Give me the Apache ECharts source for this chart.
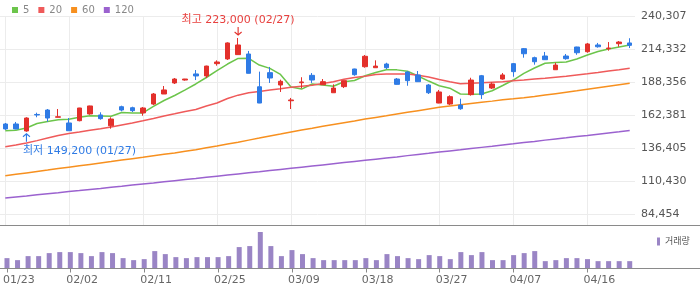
<!DOCTYPE html>
<html><head><meta charset="utf-8">
<script src="https://cdn.jsdelivr.net/npm/echarts@6/dist/echarts.min.js"></script>
<style>html,body{margin:0;padding:0;background:#fff}#c{width:700px;height:289px}</style>
</head><body><div id="c"></div>
<script>
const dates = ['01/23','01/26','01/27','01/28','01/29','01/30','02/02','02/03','02/04','02/05','02/06','02/09','02/10','02/11','02/12','02/13','02/19','02/20','02/23','02/24','02/25','02/26','02/27','03/03','03/04','03/05','03/06','03/09','03/10','03/11','03/12','03/13','03/16','03/17','03/18','03/19','03/20','03/23','03/24','03/25','03/26','03/27','03/30','03/31','04/01','04/02','04/03','04/06','04/07','04/08','04/09','04/10','04/13','04/14','04/15','04/16','04/17','04/20','04/21','04/22'];
// [open, close, low, high]
const candles = [
[155300,151400,150600,156100],[155300,151400,151100,156900],[149800,160000,149200,160600],[162800,162400,160600,164200],
[166300,160000,157100,167100],[160600,161000,160500,167100],[156100,150000,150000,160000],[157900,167900,157400,168000],
[163200,169500,162600,169700],[162400,159500,158700,164500],[153900,159200,151600,160600],[168900,166300,165300,169700],
[168100,165800,164700,168900],[164000,167900,161800,168700],[171000,178900,170200,179700],[178900,182100,178900,185200],
[187600,190700,186800,191500],[189900,190700,189400,190800],[194700,193100,189900,197800],[193100,200900,191500,201200],
[202800,204100,201200,205400],[206500,219100,205700,219600],[209900,217500,209800,223000],[210400,195200,195100,212800],
[184600,171800,171700,196500],[195700,191500,187600,200200],[186000,188900,180500,190200],[173600,174200,167100,175800],
[187800,188400,183400,192100],[193600,189900,187600,195400],[186200,188600,186200,190700],[179900,183600,179900,186500],
[184700,189400,183600,189600],[198600,194100,193300,198800],[200400,208600,199600,209600],[199600,200900,199600,205400],
[202500,199600,198600,203500],[190700,186500,186300,191500],[196200,189400,185400,196800],[193900,188600,188400,197000],
[186000,179900,178900,186800],[171800,180500,171600,182100],[171000,176800,170200,177900],[170200,167300,166500,175200],
[178400,189900,177600,191700],[193300,178400,175000,193900],[183600,186800,182800,188100],[190700,193900,190200,195400],
[202800,196500,192500,203300],[214600,210600,207500,215100],[207500,204300,202000,208300],[208800,205900,205700,212000],
[198000,201700,197900,203500],[208800,206700,205900,210400],[215900,211400,209800,216100],[212200,218300,211400,219100],
[217500,216100,215400,219100],[214600,215100,213000,219800],[218500,219800,216100,220600],[219100,217200,215100,222800]
];
const volumes = [310,250,370,370,460,490,490,460,370,490,460,310,250,280,520,430,340,310,340,340,340,370,640,670,1090,670,370,550,430,310,250,250,250,250,310,250,430,370,310,280,400,370,280,490,400,490,250,250,400,460,520,220,250,310,310,280,220,220,220,220];
const ma5 = [150000,150300,152100,155700,157300,158700,159000,160600,161800,161600,161400,164300,164000,164000,169100,173800,177700,182100,186800,191900,197300,202500,206900,207000,201700,199100,194300,184400,182800,186800,186000,185000,188600,189500,193300,195800,198000,197900,196800,193100,189100,185400,183500,178900,178800,178900,181500,185600,189900,195200,199400,203100,203700,204100,206500,209600,212400,214300,215900,217500];
const ma20 = [137400,138800,140300,142200,144300,146200,147800,149000,150300,151500,152900,154500,156100,157800,159600,161600,163300,165100,166700,169500,171800,175400,178000,179900,180900,182100,183100,184200,185100,185800,187200,188500,190500,191900,192900,194300,194700,194700,194600,193600,192300,190300,188600,187000,187300,187700,188200,188600,189300,189900,190700,191300,192100,192900,193900,194800,195800,197000,198000,199100];
const ma60 = [114600,115700,116800,117900,119000,120200,121300,122400,123500,124600,125700,126900,128000,129100,130300,131400,132500,133800,135100,136600,138000,139500,141000,142600,144200,145900,147400,149000,150600,152000,153500,154900,156300,157700,159200,160500,161800,163200,164500,165800,167100,168400,169400,170400,171400,172400,173300,174300,175100,176000,177000,178100,179200,180300,181400,182600,183800,185000,186200,187300];
const ma120 = [97000,97900,98700,99600,100400,101200,102100,102900,103800,104600,105500,106300,107200,108100,108900,109800,110700,111600,112400,113300,114200,115100,116000,116900,117700,118600,119500,120400,121300,122200,123100,124000,124900,125800,126700,127600,128500,129400,130400,131300,132200,133200,134100,135000,136000,136900,137800,138800,139700,140700,141600,142600,143500,144400,145400,146300,147300,148300,149200,150200];
const tickLabels = ['01/23','02/02','02/11','02/25','03/09','03/18','03/27','04/07','04/16'];
const yTicks = [84454,110430,136405,162381,188356,214332,240307];
const maNames = ['5','20','60','120'];

const FONT = "'DejaVu Sans','Noto Sans CJK KR',sans-serif";
const UP = '#e3302b', DOWN = '#2f7be5';
const maColors = ['#6cc54b','#ef5a5a','#f7901f','#9b62cf'];
const fmt = v => Math.round(v).toLocaleString('en-US');
const tickIdx = tickLabels.map(d => dates.indexOf(d));
let hi = 0, lo = 0;
candles.forEach((c, i) => { if (c[3] > candles[hi][3]) hi = i; if (c[2] < candles[lo][2]) lo = i; });

const chart = echarts.init(document.getElementById('c'), null, {renderer: 'canvas'});
const option = {
  animation: false,
  textStyle: {fontFamily: FONT},
  legend: [
    {data: maNames, left: 7, top: 0, itemWidth: 6, itemHeight: 6, itemGap: 9, icon: 'rect',
     selectedMode: false, textStyle: {fontSize: 10, color: '#888', fontFamily: FONT}},
    {data: ['거래량'], left: 652, top: 232, itemWidth: 3, itemHeight: 8, icon: 'rect',
     selectedMode: false, textStyle: {fontSize: 9, color: '#555', fontFamily: FONT}}
  ],
  grid: [
    {left: 0, top: 16, width: 635, height: 209},
    {left: 0, top: 225, width: 635, height: 43.5}
  ],
  xAxis: [
    {type: 'category', data: dates, gridIndex: 0, boundaryGap: true, show: false},
    {type: 'value', gridIndex: 0, min: -0.5, max: dates.length - 0.5,
     axisLine: {show: false}, axisTick: {show: false, customValues: tickIdx},
     axisLabel: {show: false}, splitLine: {show: true, lineStyle: {color: '#ececec', width: 1}}},
    {type: 'category', data: dates, gridIndex: 1, boundaryGap: true,
     axisLine: {show: false},
     axisTick: {show: true, alignWithLabel: true, interval: (i, v) => tickLabels.includes(v), length: 4, lineStyle: {color: '#888'}},
     axisLabel: {interval: (i, v) => tickLabels.includes(v), color: '#666', fontSize: 11, margin: 6, align: 'left', padding: [0, 0, 0, -4], fontFamily: FONT},
     splitLine: {show: false}}
  ],
  yAxis: [
    {type: 'value', gridIndex: 0, position: 'right', min: 75795, max: 240307,
     axisLine: {show: false}, axisTick: {show: false, customValues: yTicks},
     axisLabel: {customValues: yTicks, formatter: fmt, color: '#555', fontSize: 11, margin: 6, fontFamily: FONT},
     splitLine: {show: true, lineStyle: {color: '#ececec', width: 1}}},
    {type: 'value', gridIndex: 1, min: 0, max: 1300, show: false}
  ],
  graphic: [
    {type: 'line', silent: true, z: 10, shape: {x1: 0, y1: 225.5, x2: 700, y2: 225.5}, style: {stroke: '#8a8a8a', lineWidth: 1}},
    {type: 'line', silent: true, z: 10, shape: {x1: 0, y1: 268.5, x2: 700, y2: 268.5}, style: {stroke: '#8a8a8a', lineWidth: 1}}
  ],
  series: [
    {type: 'candlestick', name: 'price', xAxisIndex: 0, yAxisIndex: 0, data: candles, barWidth: 5, z: 3,
     itemStyle: {color: UP, color0: DOWN, borderColor: UP, borderColor0: DOWN, borderWidth: 1},
     markPoint: {silent: true, animation: false, data: [
       {coord: [dates[hi], candles[hi][3]], symbol: 'path://M4,0 L4,9 M0.6,5.6 L4,9 L7.4,5.6', symbolSize: [7, 8], symbolOffset: [0, -7],
        itemStyle: {color: 'rgba(0,0,0,0)', borderColor: UP, borderWidth: 1.2}, label: {show: false}},
       {coord: [dates[hi], candles[hi][3]], symbol: 'circle', symbolSize: 0,
        label: {show: true, position: 'inside', offset: [0, -18], color: '#e8413f', fontSize: 11, fontFamily: FONT,
                formatter: '최고 ' + fmt(candles[hi][3]) + ' (' + dates[hi] + ')'}},
       {coord: [dates[lo], candles[lo][2]], symbol: 'path://M4,9 L4,0 M0.6,3.4 L4,0 L7.4,3.4', symbolSize: [7, 8], symbolOffset: [0, 6],
        itemStyle: {color: 'rgba(0,0,0,0)', borderColor: DOWN, borderWidth: 1.2}, label: {show: false}},
       {coord: [dates[lo], candles[lo][2]], symbol: 'circle', symbolSize: 0,
        label: {show: true, position: 'inside', offset: [-3.5, 19], align: 'left', color: '#2f7be5', fontSize: 11, fontFamily: FONT,
                formatter: '최저 ' + fmt(candles[lo][2]) + ' (' + dates[lo] + ')'}}
     ]}},
    ...[ma5, ma20, ma60, ma120].map((d, k) => ({
      type: 'line', name: maNames[k], xAxisIndex: 0, yAxisIndex: 0, data: d, symbol: 'none', z: 2,
      color: maColors[k], lineStyle: {width: 1.5, color: maColors[k]}
    })),
    {type: 'bar', name: '거래량', xAxisIndex: 2, yAxisIndex: 1, data: volumes, barWidth: 5, itemStyle: {color: '#9a85c5'}}
  ]
};
chart.setOption(option);
</script>
</body></html>
